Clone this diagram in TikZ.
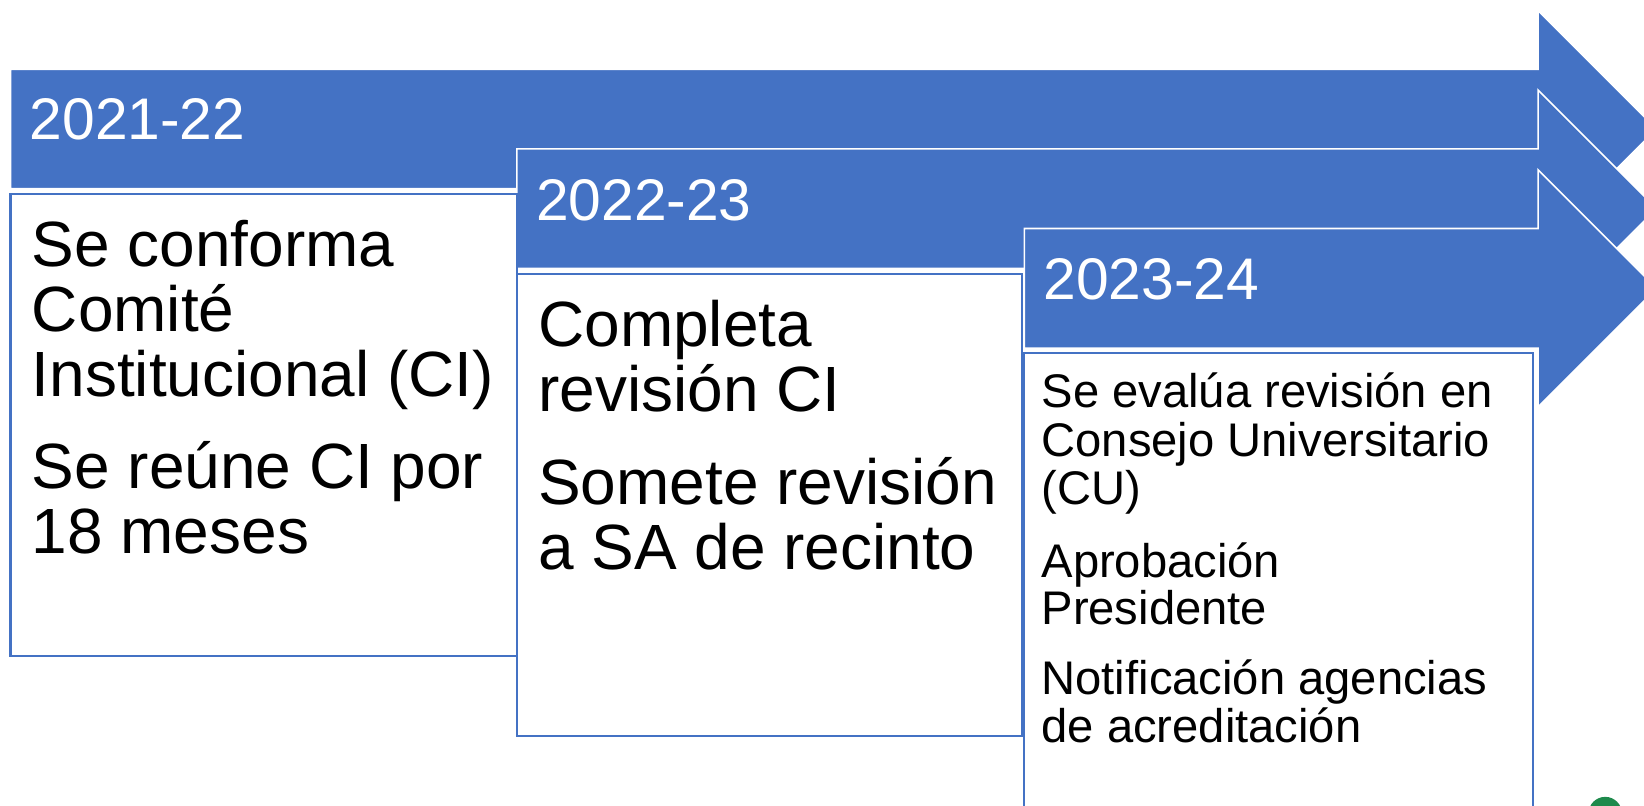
\documentclass[tikz,border=0pt]{standalone}
\usepackage{fontspec}
\setmainfont{Liberation Sans}
\usepackage{tikz}
\usetikzlibrary{positioning}
\definecolor{officeblue}{HTML}{4472C4}
\definecolor{logogreen}{HTML}{1E8A4C}
\tikzstyle{band} = [fill=officeblue, draw=white, line width=0.8pt]
\tikzstyle{panel} = [fill=white, draw=officeblue, line width=1pt]
\tikzstyle{year} = [anchor=base west, inner sep=0pt, text=white,
font=\fontsize{28}{30}\selectfont]
\tikzstyle{big} = [anchor=base west, inner sep=0pt,
font=\fontsize{30.5}{31}\selectfont]
\tikzstyle{small} = [anchor=base west, inner sep=0pt,
font=\fontsize{22.5}{23}\selectfont]

\begin{document}
\begin{tikzpicture}[x=0.5pt, y=-0.5pt]
\useasboundingbox (0,0) rectangle (1568,768);
\clip (0,0) rectangle (1568,768);
%% Arrows
\foreach \x/\c [count=\i] in {10/123, 493/199, 977/275}
  \path [band] (\x,\c-57) -- (1467,\c-57) -- (1467,\c-113)
    -- (1580,\c) -- (1467,\c+113) -- (1467,\c+57) -- (\x,\c+57) -- cycle;
%% Boxes
\path [panel] (10,185) rectangle (493,626);
\path [panel] (493,261) rectangle (975,702);
\path [panel] (977,337) rectangle (1462,800);
%% Years
\node [year] (Y1) at (28,133) {2021-22};
\node [year] (Y2) at (511,210) {2022-23};
\node [year] (Y3) at (995,286) {2023-24};
%% Texts
\foreach \y/\t [count=\i] in {254/{Se conforma}, 316/{Comité},
    378/{Institucional (CI)}, 466/{Se reúne CI por}, 528/{18 meses}}
  \node [big] (A\i) at (30,\y) {\t};
\foreach \y/\t [count=\i] in {330/{Completa}, 392/{revisión CI},
    481/{Somete revisión}, 543/{a SA de recinto}}
  \node [big] (B\i) at (513,\y) {\t};
\foreach \y/\t [count=\i] in {389/{Se evalúa revisión en},
    435/{Consejo Universitario}, 481/{(CU)}, 551/{Aprobación},
    596/{Presidente}, 662/{Notificación agencias},
    708/{de acreditación}}
  \node [small] (C\i) at (993,\y) {\t};
%% Logo
\fill [logogreen] (1531,776) circle (16);
\end{tikzpicture}
\end{document}
